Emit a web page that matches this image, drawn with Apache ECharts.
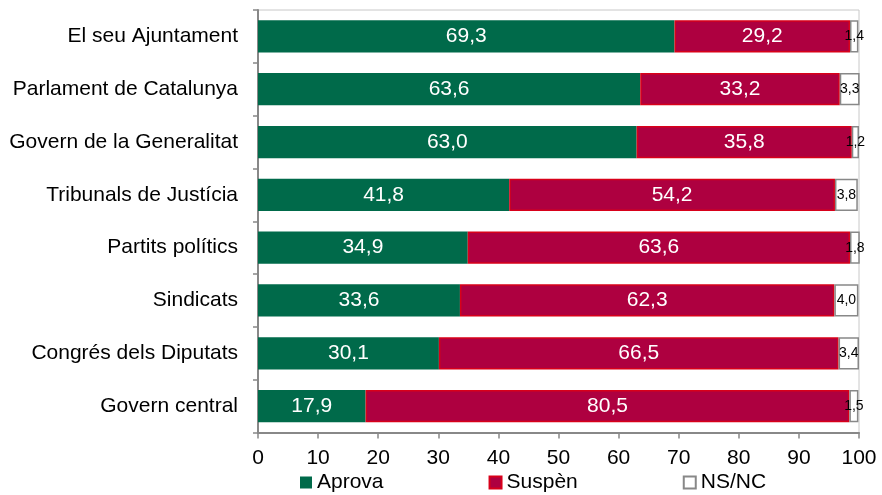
<!DOCTYPE html>
<html><head><meta charset="utf-8">
<script src="https://cdn.jsdelivr.net/npm/echarts@6/dist/echarts.min.js"></script>
<style>html,body{margin:0;padding:0;background:#fff}#c{width:882px;height:495px}</style>
</head><body><div id="c"></div>
<script>
const categories = ["El seu Ajuntament","Parlament de Catalunya","Govern de la Generalitat","Tribunals de Justícia","Partits polítics","Sindicats","Congrés dels Diputats","Govern central"];
const aprova = [69.3,63.6,63.0,41.8,34.9,33.6,30.1,17.9];
const suspen = [29.2,33.2,35.8,54.2,63.6,62.3,66.5,80.5];
const nsnc = [1.4,3.3,1.2,3.8,1.8,4.0,3.4,1.5];
const seriesNames = ["Aprova","Suspèn","NS/NC"];

const fmt = p => p.value.toFixed(1).replace('.', ',');
const font = "'Liberation Sans', Arial, sans-serif";
const chart = echarts.init(document.getElementById('c'));
chart.setOption({
  animation:false,
  textStyle:{fontFamily:font},
  grid:{left:258,right:23,top:10,bottom:62.5,show:true,borderColor:'#c8c8c8',borderWidth:1},
  legend:{top:472,left:300,padding:0,itemGap:105,itemWidth:12,itemHeight:12,textStyle:{fontSize:21,color:'#000',fontFamily:font},
    data:seriesNames,icon:'rect'},
  xAxis:{type:'value',min:0,max:100,interval:10,
    axisLine:{show:true,lineStyle:{color:'#888',width:2}},
    axisTick:{show:true,length:6,lineStyle:{color:'#888',width:1.5}},
    splitLine:{show:false},
    axisLabel:{fontSize:21,color:'#000',margin:15,fontFamily:font}},
  yAxis:{type:'category',data:categories,inverse:true,
    axisLine:{show:true,lineStyle:{color:'#888',width:2}},
    axisTick:{show:true,length:5,lineStyle:{color:'#888',width:1.5}},
    axisLabel:{fontSize:21,color:'#000',margin:20,fontFamily:font}},
  series:[
    {name:seriesNames[0],type:'bar',stack:'t',data:aprova,barWidth:'61%',
     itemStyle:{color:'#006A4A'},
     label:{show:true,position:'inside',color:'#fff',fontSize:21,formatter:fmt,fontFamily:font}},
    {name:seriesNames[1],type:'bar',stack:'t',data:suspen,
     itemStyle:{color:'#AE0040',borderColor:'#D8001A',borderWidth:1.5},
     label:{show:true,position:'inside',color:'#fff',fontSize:21,formatter:fmt,fontFamily:font}},
    {name:seriesNames[2],type:'bar',stack:'t',data:nsnc,
     itemStyle:{color:'#fff',borderColor:'#888',borderWidth:1.5},
     label:{show:true,position:'inside',color:'#000',fontSize:14,formatter:fmt,fontFamily:font}}
  ]
});
</script></body></html>
